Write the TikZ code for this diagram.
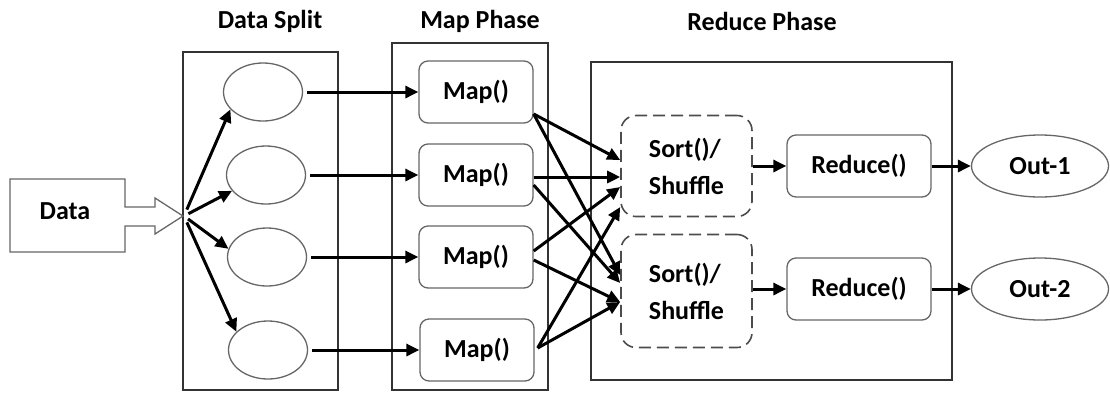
\documentclass[tikz,border=0pt]{standalone}
\usepackage{fontspec}
\setmainfont{Carlito}
\usetikzlibrary{arrows.meta,calc,shapes.geometric}
\begin{document}
\begin{tikzpicture}[x=1pt,y=-1pt,
  lbl/.style={font=\fontsize{26}{37}\selectfont\bfseries},
  phase/.style={draw=black!80,line width=1.4pt},
  outline/.style={draw=black!60,line width=1.3pt},
  part/.style={ellipse,outline,minimum width=79pt,minimum height=58pt,inner sep=0pt},
  mapbox/.style={rectangle,rounded corners=9pt,outline,minimum width=114pt,minimum height=62pt,inner sep=0pt,lbl},
  sortbox/.style={rectangle,rounded corners=15pt,draw=black!70,line width=1.6pt,dash pattern=on 12pt off 6pt,minimum width=131pt,inner sep=0pt,align=left,lbl},
  redbox/.style={rectangle,rounded corners=9pt,outline,minimum width=144pt,minimum height=62pt,inner sep=0pt,lbl},
  outnode/.style={ellipse,outline,minimum width=137pt,minimum height=62pt,inner sep=0pt,lbl},
  arr/.style={line width=3pt,-{Triangle[length=13pt,width=12pt]}}
]
\useasboundingbox (0,0) rectangle (1110,392);

% phase frames
\draw[phase] (183,52) rectangle (338,390);
\draw[phase] (392,43) rectangle (548,390);
\draw[phase] (591,62) rectangle (952,380);

% titles
\node[lbl] (tsplit) at (270,21) {Data Split};
\node[lbl] (tmap) at (480,21) {Map Phase};
\node[lbl] (treduce) at (762,21) {Reduce Phase};

% input block with its arrow
\draw[outline] (10,179) -- (125,179) -- (125,207) -- (155,207) -- (155,198)
  -- (183,216) -- (155,234) -- (155,226) -- (125,226) -- (125,252)
  -- (10,252) -- cycle;
\node[lbl] (data) at (65,211) {Data};
\coordinate (fan) at (184,216);

% splits
\node[part] (e1) at (263,92) {};
\node[part] (e2) at (266,175) {};
\node[part] (e3) at (267,257) {};
\node[part] (e4) at (268,350) {};

% map tasks
\node[mapbox] (m1) at (476,92) {Map()};
\node[mapbox] (m2) at (476,175) {Map()};
\node[mapbox] (m3) at (476,257) {Map()};
\node[mapbox] (m4) at (477,350) {Map()};

% sort / shuffle, reduce, output
\node[sortbox,minimum height=101pt] (s1) at (686.5,166) {Sort()/\\Shuffle};
\node[sortbox,minimum height=113pt] (s2) at (686.5,291) {Sort()/\\Shuffle};
\node[redbox] (r1) at (859,166) {Reduce()};
\node[redbox] (r2) at (859,289) {Reduce()};
\node[outnode] (o1) at (1040,166) {Out-1};
\node[outnode] (o2) at (1040,289) {Out-2};

% splitting the input
\draw[arr,shorten <=7pt] (fan) -- (e1.208);
\draw[arr,shorten <=5pt] (fan) -- (e2.205);
\draw[arr,shorten <=5pt] (fan) -- (e3.168);
\draw[arr,shorten <=7pt] (fan) -- (e4.150);

% splits to map tasks
\draw[arr,shorten <=4pt] (e1) -- (m1);
\draw[arr,shorten <=4pt] (e2) -- (m2);
\draw[arr,shorten <=4pt] (e3) -- (m3);
\draw[arr,shorten <=4pt] (e4) -- (m4);

% map outputs to sort / shuffle
\draw[arr] ($(m1.east)+(0,22)$) -- ($(s1.west)+(0,-6)$);
\draw[arr] ($(m1.east)+(0,22)$) -- ($(s2.west)+(0,-16)$);
\draw[arr] ($(m2.east)+(0,2)$) -- ($(s1.west)+(0,11)$);
\draw[arr] ($(m2.east)+(0,10)$) -- ($(s2.west)+(0,-8)$);
\draw[arr] ($(m3.east)+(0,-6)$) -- ($(s1.west)+(0,21)$);
\draw[arr] ($(m3.east)+(0,3)$) -- ($(s2.west)+(0,11)$);
\draw[arr] ($(m4.east)+(3,-2)$) -- ($(s1.west)+(0,41)$);
\draw[arr] ($(m4.east)+(3,-2)$) -- ($(s2.west)+(0,11)$);

% reduce and output
\draw[arr] (s1) -- (r1);
\draw[arr] (s2.east |- r2) -- (r2);
\draw[arr] (r1) -- (o1);
\draw[arr] (r2) -- (o2);
\end{tikzpicture}
\end{document}
